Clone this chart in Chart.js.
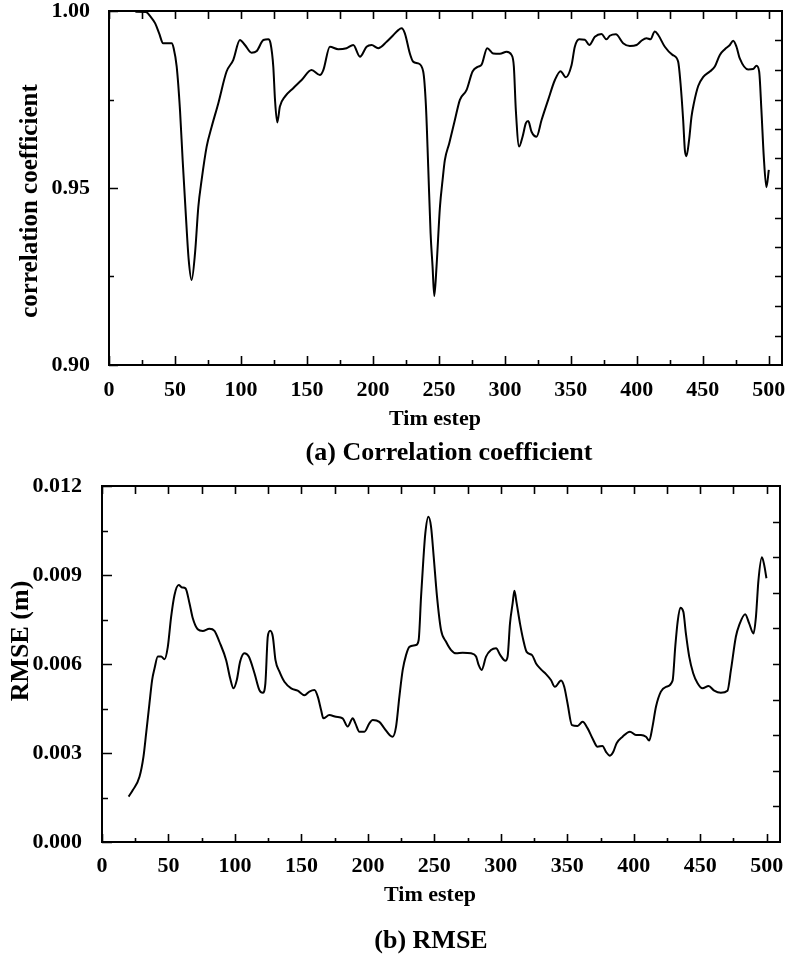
<!DOCTYPE html>
<html><head><meta charset="utf-8">
<script src="https://cdn.jsdelivr.net/npm/chart.js@4.4.1/dist/chart.umd.min.js"></script>
<style>
html,body{margin:0;padding:0;background:#fff;}
#w1{position:absolute;left:0;top:0;width:788px;height:470px;}
#w2{position:absolute;left:0;top:470px;width:788px;height:485px;}
</style></head><body>
<div id="w1"><canvas id="c1"></canvas></div>
<div id="w2"><canvas id="c2"></canvas></div>
<script>
// ---- data ----
const corrSteps = [20,28,31.5,35,38,41,47.5,49,51.3,53.8,55.8,58.3,60.4,62.6,65.2,67.7,70.2,74,77.8,82.8,89.1,94.2,99.2,103,108,112,117,120.7,122.4,124.5,125.8,127.5,129.5,133.3,139.6,146,153.5,159.8,162.4,167.4,173.7,180,185.1,190.2,195.2,199,204,210.4,215,219.2,221.7,224.2,228,230.5,234.3,238.1,240.2,241.9,243.7,245.2,246.5,248.2,250.8,252.8,254.5,257.8,262.1,265.9,271,275.5,279.8,282.3,286.6,291.2,296.2,301.3,305,306.8,308.3,310.8,313.4,315.9,317.7,320.2,324,327.8,332.8,337.9,342.2,346.2,350.5,353,356.3,360.6,363.9,368.2,373.2,377,379.5,384.1,389.6,394.7,399.8,403.5,407.3,410.3,413.6,416.1,421.2,427,431.3,433.1,435.1,436.4,437.6,439.6,441.4,443.2,446.5,450.2,455.3,459.1,462.9,466.7,470.5,473,475.5,478,484.3,488.1,490.7,492.7,494.4,496.2,498.2,500];
const corrValues = [0.9998,0.9997,0.9984,0.9965,0.9937,0.9909,0.9909,0.9895,0.9843,0.972,0.958,0.9419,0.9297,0.924,0.9316,0.9447,0.9523,0.9617,0.9673,0.9739,0.9829,0.9862,0.9918,0.9904,0.9882,0.9887,0.9918,0.992,0.9909,0.9843,0.9749,0.9685,0.973,0.9758,0.9782,0.9805,0.9833,0.9819,0.9833,0.9899,0.9892,0.9895,0.9904,0.9871,0.9899,0.9904,0.9895,0.9913,0.993,0.9946,0.9951,0.9937,0.988,0.9857,0.9852,0.9829,0.973,0.956,0.9372,0.9278,0.9195,0.9278,0.9447,0.9523,0.9579,0.9626,0.9692,0.9749,0.9777,0.9829,0.9843,0.9848,0.9895,0.988,0.9879,0.9885,0.9876,0.9843,0.972,0.9617,0.9645,0.9683,0.9689,0.9659,0.9645,0.9692,0.9749,0.9805,0.983,0.9813,0.9847,0.9899,0.992,0.9919,0.9904,0.9927,0.9935,0.992,0.993,0.9934,0.9909,0.9901,0.9904,0.9916,0.9923,0.992,0.9942,0.9933,0.9899,0.9876,0.9857,0.9796,0.9692,0.9607,0.959,0.9636,0.9701,0.9739,0.9788,0.9813,0.9829,0.9843,0.9876,0.9892,0.9904,0.9916,0.9899,0.9866,0.9835,0.9836,0.9845,0.9829,0.972,0.9588,0.9502,0.9551];
const rmseSteps = [20,23.2,28.2,31.2,33.2,35.7,37.7,39.5,42,44.5,47,49.5,52,54.5,57.7,60.2,62.8,65.8,68.3,72,75.8,80.8,84.6,88.3,93.4,96.4,98.9,101.4,103.9,107.1,110.4,114.7,118.4,120.9,122.9,124.7,126.5,128.5,130.5,133.5,137.2,142.3,147.2,152.3,156,159.8,162.3,164.8,166.5,171,176,181,184.8,188.6,190.6,193.6,197.4,201.1,203.6,208.6,212.4,216.5,218.6,221.2,223.7,226.2,228.7,231.2,236.2,238.2,240,241.7,243.2,245.5,247.5,249.5,252,255,258.8,262.6,266.3,271.3,277.6,281.4,283.3,285.6,288.9,292.6,296.4,299.6,303.4,305.1,306.9,308.9,310.2,311.9,314.4,316.9,319.4,323.5,326.5,330.2,334,337.7,340.7,345.3,347.7,350.2,353.5,357.7,361.5,365.3,369,372.8,376.5,379.1,382.1,384.6,387.1,391.6,397.1,401.6,405.4,409.2,411.6,414.1,416.7,420.4,424.2,429.2,431.2,433,435,437.3,439.2,441.7,444.7,448,451.7,456.3,460.5,465.5,470.5,473.1,476.8,479.3,483.8,486.8,490.1,491.9,493.8,496.4,498.1,499.8];
const rmseValues = [0.00153,0.00175,0.0022,0.00288,0.00366,0.00467,0.00546,0.00585,0.00625,0.00625,0.00616,0.00658,0.00759,0.00832,0.00866,0.00858,0.00855,0.00805,0.00754,0.00717,0.00711,0.00719,0.00712,0.00675,0.00613,0.00552,0.00518,0.00546,0.00608,0.00636,0.00625,0.00569,0.00512,0.00503,0.00535,0.00692,0.00712,0.00692,0.00613,0.00574,0.0054,0.00518,0.0051,0.00495,0.00507,0.00512,0.0049,0.00445,0.00417,0.00428,0.00422,0.00417,0.00389,0.00417,0.004,0.00372,0.00372,0.004,0.00411,0.00405,0.00383,0.0036,0.00355,0.00389,0.0049,0.0058,0.0063,0.00658,0.00664,0.00681,0.00827,0.0095,0.0104,0.01096,0.01063,0.00962,0.00827,0.00715,0.00675,0.00647,0.00636,0.00638,0.00636,0.00625,0.00597,0.0058,0.00625,0.00647,0.00653,0.0063,0.00611,0.00625,0.00737,0.00805,0.00847,0.00805,0.00737,0.00681,0.00641,0.0063,0.00602,0.00582,0.00566,0.00546,0.00523,0.00544,0.00523,0.00467,0.00394,0.00391,0.00405,0.00383,0.00349,0.00321,0.00324,0.00304,0.00291,0.00304,0.00333,0.00355,0.00372,0.00361,0.00361,0.00355,0.00342,0.00389,0.00456,0.00507,0.00523,0.00544,0.00658,0.00742,0.0079,0.00776,0.00703,0.00625,0.00569,0.00535,0.00518,0.00526,0.0051,0.00503,0.0051,0.0058,0.00692,0.00731,0.00768,0.00737,0.00703,0.00759,0.00883,0.0096,0.00934,0.00889];
const xTickLabels = [0,50,100,150,200,250,300,350,400,450,500];
const corrTickLabels = [0.90,0.95,1.00];
const rmseTickLabels = [0,0.003,0.006,0.009,0.012];

const FONT = "'Liberation Serif','Times New Roman',serif";

function framePlugin(o){
  return {
    id:'frame',
    afterDraw(chart){
      const ctx = chart.ctx, a = chart.chartArea, x = chart.scales.x, y = chart.scales.y;
      ctx.save();
      ctx.strokeStyle = '#000';
      ctx.lineWidth = 1.6;
      ctx.beginPath();
      for(let k=0;k*25<=500;k++){
        const px = Math.round(x.getPixelForValue(k*25))+0.5;
        const L = (k%2===0)?o.xMaj:o.xMin;
        ctx.moveTo(px,a.bottom); ctx.lineTo(px,a.bottom-L);
        ctx.moveTo(px,a.top); ctx.lineTo(px,a.top+o.topLen);
      }
      for(let k=0;k<=o.yMinorCount;k++){
        const v = o.yMin + k*(o.yMax-o.yMin)/o.yMinorCount;
        const py = Math.round(y.getPixelForValue(v))+0.5;
        const L = (k%2===0)?o.yMaj:o.yMinL;
        ctx.moveTo(a.left,py); ctx.lineTo(a.left+L,py);
      }
      for(let k=1;k<o.rightDiv;k++){
        const v = o.yMin + k*(o.yMax-o.yMin)/o.rightDiv;
        const py = Math.round(y.getPixelForValue(v))+0.5;
        ctx.moveTo(a.right,py); ctx.lineTo(a.right-o.rightLen,py);
      }
      ctx.stroke();
      ctx.lineWidth = 2;
      ctx.strokeRect(a.left,a.top,a.right-a.left,a.bottom-a.top);
      ctx.fillStyle = '#000';
      ctx.textAlign = 'center';
      ctx.textBaseline = 'alphabetic';
      ctx.font = 'bold 22px '+FONT;
      ctx.fillText('Tim estep', o.xtX, o.xtY);
      ctx.font = 'bold 26px '+FONT;
      ctx.fillText(o.caption, o.capX, o.capY);
      ctx.font = 'bold '+o.ytSize+'px '+FONT;
      ctx.translate(o.ytX, o.ytY);
      ctx.rotate(-Math.PI/2);
      ctx.fillText(o.yTitle, 0, 0);
      ctx.restore();
    }
  };
}

function makeChart(id, steps, vals, yMin, yMax, yTicks, dec, geo, frameOpts){
  return new Chart(document.getElementById(id), {
    type:'line',
    data:{ datasets:[{
      data: steps.map((s,i)=>({x:s,y:vals[i]})),
      borderColor:'#000', borderWidth:2, pointRadius:0, fill:false,
      cubicInterpolationMode:'monotone'
    }]},
    options:{
      responsive:true, maintainAspectRatio:false, animation:false,
      layout:{padding:{top:geo.top,right:geo.right,left:0,bottom:0}},
      plugins:{legend:{display:false},tooltip:{enabled:false}},
      scales:{
        x:{type:'linear',min:0,max:510,
          grid:{display:false},border:{display:false},
          afterBuildTicks:s=>{s.ticks = xTickLabels.map(v=>({value:v}));},
          afterFit:s=>{s.height = geo.xH; s.paddingLeft=0; s.paddingRight=0; s.paddingTop=0; s.paddingBottom=0;},
          ticks:{autoSkip:false,maxRotation:0,padding:geo.xPad,color:'#000',
            font:{family:FONT,size:22,weight:'bold'},callback:v=>String(v)}},
        y:{type:'linear',min:yMin,max:yMax,
          grid:{display:false},border:{display:false},
          afterBuildTicks:s=>{s.ticks = yTicks.map(v=>({value:v}));},
          afterFit:s=>{s.width = geo.yW; s.paddingLeft=0; s.paddingRight=0; s.paddingTop=0; s.paddingBottom=0;},
          ticks:{autoSkip:false,padding:geo.yPad,color:'#000',
            font:{family:FONT,size:22,weight:'bold'},callback:v=>Number(v).toFixed(dec)}}
      }
    },
    plugins:[framePlugin(frameOpts)]
  });
}

makeChart('c1', corrSteps, corrValues, 0.90, 1.00, corrTickLabels, 2,
  {top:11,right:6,xH:105,yW:109,xPad:4,yPad:11},
  {xMaj:9,xMin:5,topLen:8,yMinorCount:4,yMin:0.90,yMax:1.00,yMaj:9,yMinL:5,rightDiv:12,rightLen:7,
   xtX:435,xtY:425,caption:'(a) Correlation coefficient',capX:449,capY:460,
   yTitle:'correlation coefficient',ytSize:25,ytX:37,ytY:201});

makeChart('c2', rmseSteps, rmseValues, 0, 0.012, rmseTickLabels, 3,
  {top:16,right:8,xH:113,yW:102,xPad:3,yPad:12},
  {xMaj:8,xMin:4,topLen:8,yMinorCount:8,yMin:0,yMax:0.012,yMaj:10,yMinL:6,rightDiv:10,rightLen:7,
   xtX:430,xtY:431,caption:'(b) RMSE',capX:431,capY:478,
   yTitle:'RMSE (m)',ytSize:26,ytX:28,ytY:171});
</script>
</body></html>
